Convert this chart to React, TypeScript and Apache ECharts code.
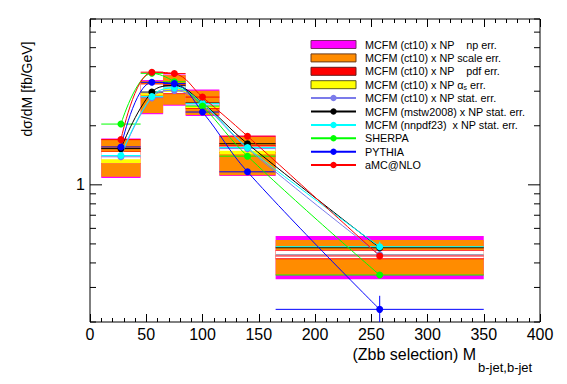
import React, { useEffect, useRef } from 'react';
import * as echarts from 'echarts';

// ---- bins (GeV) ----
const binLo = [10, 45, 65, 85, 115, 165];
const binHi = [45, 65, 85, 115, 165, 350];
const binCenter = [27.5, 55, 75, 100, 140, 257.5];

// ---- MCFM (ct10) x NP theory bands ----
const npLo = [1.085, 2.29, 2.53, 2.24, 1.11, 0.33];
const npHi = [1.72, 3.42, 3.65, 3.06, 1.78, 0.548];
const scaleLo = [1.1, 2.32, 2.56, 2.27, 1.12, 0.347];
const scaleHi = [1.7, 3.38, 3.62, 3.02, 1.76, 0.524];
const pdfLo = [1.28, 2.88, 2.9, 2.44, 1.45, 0.418];
const pdfHi = [1.48, 3.28, 3.25, 2.63, 1.59, 0.466];
const statLo = [1.29, 2.92, 2.93, 2.46, 1.47, 0.422];
const statHi = [1.47, 3.25, 3.22, 2.61, 1.57, 0.462];
const alphaLo = [1.29, 2.86, 2.97, 2.46, 1.43, 0.439];
const alphaHi = [1.35, 2.93, 3.09, 2.52, 1.49, 0.443];

// ---- predictions ----
const ct10 = [1.39, 2.78, 3.03, 2.55, 1.53, 0.44];
const ct10Err = [0.05, 0.12, 0.08, 0.05, 0.03, 0.02];
const mstw = [1.53, 2.97, 3.2, 2.61, 1.62, 0.478];
const mstwErr = [0.04, 0.08, 0.06, 0.05, 0.03, 0.02];
const nnpdf = [1.41, 2.82, 3.12, 2.6, 1.55, 0.484];
const nnpdfErr = [0.05, 0.15, 0.08, 0.05, 0.03, 0.03];
const sherpa = [2.04, 3.7, 3.35, 2.52, 1.4, 0.347];
const sherpaErr = [0.02, 0.03, 0.03, 0.02, 0.02, 0.01];
const pythia = [1.56, 3.33, 3.28, 2.35, 1.165, 0.232];
const pythiaErr = [0.02, 0.03, 0.03, 0.02, 0.02, 0.04];
const amc = [1.7, 3.75, 3.69, 2.8, 1.77, 0.434];
const amcErr = [0.02, 0.03, 0.03, 0.02, 0.02, 0.01];

// ---- axis ticks ----
const yTickValues = [0.2, 0.3, 0.4, 0.5, 0.6, 0.7, 0.8, 0.9, 1, 2, 3, 4, 5, 6, 7];
const yMajorTicks = [1];

const FONT = '"Liberation Sans", Arial, Helvetica, sans-serif';

const N_NP = 'MCFM (ct10) x NP    np err.';
const N_SCALE = 'MCFM (ct10) x NP scale err.';
const N_PDF = 'MCFM (ct10) x NP    pdf err.';
const N_AS = 'MCFM (ct10) x NP αs err.';
const N_CT10 = 'MCFM (ct10) x NP stat. err.';
const N_MSTW = 'MCFM (mstw2008) x NP stat. err.';
const N_NNPDF = 'MCFM (nnpdf23)  x NP stat. err.';
const N_SHERPA = 'SHERPA';
const N_PYTHIA = 'PYTHIA';
const N_AMC = 'aMC@NLO';

function bandSeries(name: string, lo: number[], hi: number[], color: string, z: number) {
  return {
    type: 'custom',
    name,
    z,
    silent: true,
    clip: true,
    itemStyle: { color },
    encode: { x: [0, 1], y: [2, 3] },
    data: binLo.map((b, i) => [b, binHi[i], lo[i], hi[i]]),
    renderItem: (_p: any, api: any) => {
      const p1 = api.coord([api.value(0), api.value(3)]);
      const p2 = api.coord([api.value(1), api.value(2)]);
      return {
        type: 'rect',
        shape: { x: p1[0], y: p1[1], width: p2[0] - p1[0], height: p2[1] - p1[1] },
        style: { fill: color },
      };
    },
  };
}

function errSeries(id: string, vals: number[], errs: number[], color: string, z: number) {
  return {
    type: 'custom',
    name: id,
    z,
    silent: true,
    clip: true,
    encode: { x: 0, y: 1 },
    data: binCenter.map((x, i) => [x, vals[i], binLo[i], binHi[i], errs[i]]),
    renderItem: (_p: any, api: any) => {
      const y = api.value(1);
      const e = api.value(4);
      const l = api.coord([api.value(2), y]);
      const r = api.coord([api.value(3), y]);
      const up = api.coord([api.value(0), y + e]);
      const dn = api.coord([api.value(0), Math.max(y - e, 0.01)]);
      return {
        type: 'group',
        children: [
          { type: 'line', shape: { x1: l[0], y1: l[1], x2: r[0], y2: r[1] }, style: { stroke: color, lineWidth: 1 } },
          { type: 'line', shape: { x1: up[0], y1: up[1], x2: dn[0], y2: dn[1] }, style: { stroke: color, lineWidth: 1 } },
        ],
      };
    },
  };
}

function lineSeries(name: string, vals: number[], color: string, z: number) {
  return {
    type: 'line',
    name,
    z,
    smooth: 0.4,
    symbol: 'circle',
    symbolSize: 7,
    showSymbol: true,
    silent: true,
    lineStyle: { color, width: 1 },
    itemStyle: { color },
    data: binCenter.map((x, i) => [x, vals[i]]),
  };
}

const C_NP = '#ff00ff';
const C_SCALE = '#ff8c00';
const C_PDF = '#ff0000';
const C_AS = '#ffff00';
const C_CT10 = '#7b7bea';
const C_MSTW = '#000000';
const C_NNPDF = '#00ffff';
const C_SHERPA = '#00ff00';
const C_PYTHIA = '#0000ff';
const C_AMC = '#ff0000';

function xAxisCfg(position: 'bottom' | 'top') {
  return {
    type: 'value',
    position,
    min: 0,
    max: 400,
    interval: 50,
    axisLine: { show: false },
    axisTick: { show: true, inside: true, length: 8, lineStyle: { color: '#000', width: 1 } },
    minorTick: { show: true, splitNumber: 5, length: 4, lineStyle: { color: '#000', width: 1 } },
    splitLine: { show: false },
    minorSplitLine: { show: false },
    axisLabel: {
      show: position === 'bottom',
      color: '#000',
      fontSize: 16,
      fontFamily: FONT,
      margin: 4,
    },
  };
}

export default function App() {
  const ref = useRef<HTMLDivElement>(null);
  useEffect(() => {
    const chart = echarts.init(ref.current!, undefined, { renderer: 'svg' });
    const option: any = {
      animation: false,
      backgroundColor: '#fff',
      grid: {
        left: 90,
        right: 27,
        top: 19,
        bottom: 62,
        show: true,
        borderColor: '#000',
        borderWidth: 1,
        backgroundColor: 'transparent',
        containLabel: false,
        outerBoundsMode: 'none',
      },
      xAxis: [xAxisCfg('bottom'), xAxisCfg('top')],
      yAxis: {
        type: 'log',
        logBase: 10,
        min: 0.2,
        max: 7,
        axisLine: { show: false },
        axisTick: { show: false },
        minorTick: { show: false },
        splitLine: { show: false },
        showMinLabel: false,
        showMaxLabel: false,
        axisLabel: {
          color: '#000',
          fontSize: 16,
          fontFamily: FONT,
          margin: 5,
          formatter: (v: number) => (Math.abs(v - 1) < 1e-9 ? '1' : ''),
        },
      },
      legend: {
        orient: 'vertical',
        left: 310,
        top: 38,
        padding: 0,
        itemGap: 0.4,
        itemWidth: 45,
        itemHeight: 8,
        selectedMode: false,
        textStyle: {
          color: '#000',
          fontSize: 10.8,
          fontFamily: FONT,
          lineHeight: 13,
          padding: [0, 0, 0, 4],
          rich: {
            g: { fontSize: 10.8, fontFamily: FONT, color: '#000', lineHeight: 13 },
            s: { fontSize: 7, fontFamily: FONT, color: '#000', lineHeight: 13, verticalAlign: 'bottom', padding: [4, 0, 0, 0] },
          },
        },
        formatter: (name: string) => (name === N_AS ? '{g|MCFM (ct10) x NP α}{s|s}{g| err.}' : name),
        data: [
          { name: N_NP, icon: 'rect', itemStyle: { color: C_NP, borderColor: '#7a2a6a', borderWidth: 1 } },
          { name: N_SCALE, icon: 'rect', itemStyle: { color: C_SCALE, borderColor: '#6a3a1a', borderWidth: 1 } },
          { name: N_PDF, icon: 'rect', itemStyle: { color: C_PDF, borderColor: '#6a1a1a', borderWidth: 1 } },
          { name: N_AS, icon: 'rect', itemStyle: { color: C_AS, borderColor: '#5a5a1a', borderWidth: 1 } },
          { name: N_CT10 },
          { name: N_MSTW },
          { name: N_NNPDF },
          { name: N_SHERPA },
          { name: N_PYTHIA },
          { name: N_AMC },
        ],
      },
      graphic: [
        {
          type: 'text',
          x: 27,
          y: 89,
          rotation: Math.PI / 2,
          style: { text: 'dσ/dM [fb/GeV]', fontSize: 14, fontFamily: FONT, fill: '#000', align: 'center', verticalAlign: 'middle' },
        },
        {
          type: 'text',
          x: 476,
          y: 354,
          style: { text: '(Zbb selection) M', fontSize: 16, fontFamily: FONT, fill: '#000', align: 'right', verticalAlign: 'middle' },
        },
        {
          type: 'text',
          x: 478,
          y: 367,
          style: { text: 'b-jet,b-jet', fontSize: 13, fontFamily: FONT, fill: '#000', align: 'left', verticalAlign: 'middle' },
        },
      ],
      series: [
        bandSeries(N_NP, npLo, npHi, C_NP, 1),
        bandSeries(N_SCALE, scaleLo, scaleHi, C_SCALE, 2),
        bandSeries(N_PDF, pdfLo, pdfHi, C_PDF, 3),
        bandSeries('stat box', statLo, statHi, '#ffffff', 4),
        bandSeries(N_AS, alphaLo, alphaHi, C_AS, 5),
        errSeries('ct10 bars', ct10, ct10Err, C_CT10, 6),
        errSeries('mstw bars', mstw, mstwErr, C_MSTW, 6),
        errSeries('nnpdf bars', nnpdf, nnpdfErr, C_NNPDF, 6),
        errSeries('sherpa bars', sherpa, sherpaErr, C_SHERPA, 6),
        errSeries('pythia bars', pythia, pythiaErr, C_PYTHIA, 6),
        errSeries('amc bars', amc, amcErr, C_AMC, 6),
        lineSeries(N_CT10, ct10, C_CT10, 7),
        lineSeries(N_MSTW, mstw, C_MSTW, 7),
        lineSeries(N_NNPDF, nnpdf, C_NNPDF, 7),
        lineSeries(N_SHERPA, sherpa, C_SHERPA, 7),
        lineSeries(N_PYTHIA, pythia, C_PYTHIA, 7),
        lineSeries(N_AMC, amc, C_AMC, 7),
        {
          type: 'custom',
          name: 'y ticks',
          z: 10,
          silent: true,
          clip: false,
          encode: { x: 0, y: 1 },
          data: yTickValues.map((v) => [0, v]),
          renderItem: (_p: any, api: any) => {
            const v = api.value(1);
            const len = yMajorTicks.includes(v) ? 12 : 6;
            const l = api.coord([0, v]);
            const r = api.coord([400, v]);
            return {
              type: 'group',
              children: [
                { type: 'line', shape: { x1: l[0], y1: l[1], x2: l[0] + len, y2: l[1] }, style: { stroke: '#000', lineWidth: 1 } },
                { type: 'line', shape: { x1: r[0], y1: r[1], x2: r[0] - len, y2: r[1] }, style: { stroke: '#000', lineWidth: 1 } },
              ],
            };
          },
        },
      ],
    };
    chart.setOption(option);
    return () => chart.dispose();
  }, []);
  return <div ref={ref} style={{ position: 'absolute', left: 0, top: 0, width: 567, height: 384 }} />;
}
